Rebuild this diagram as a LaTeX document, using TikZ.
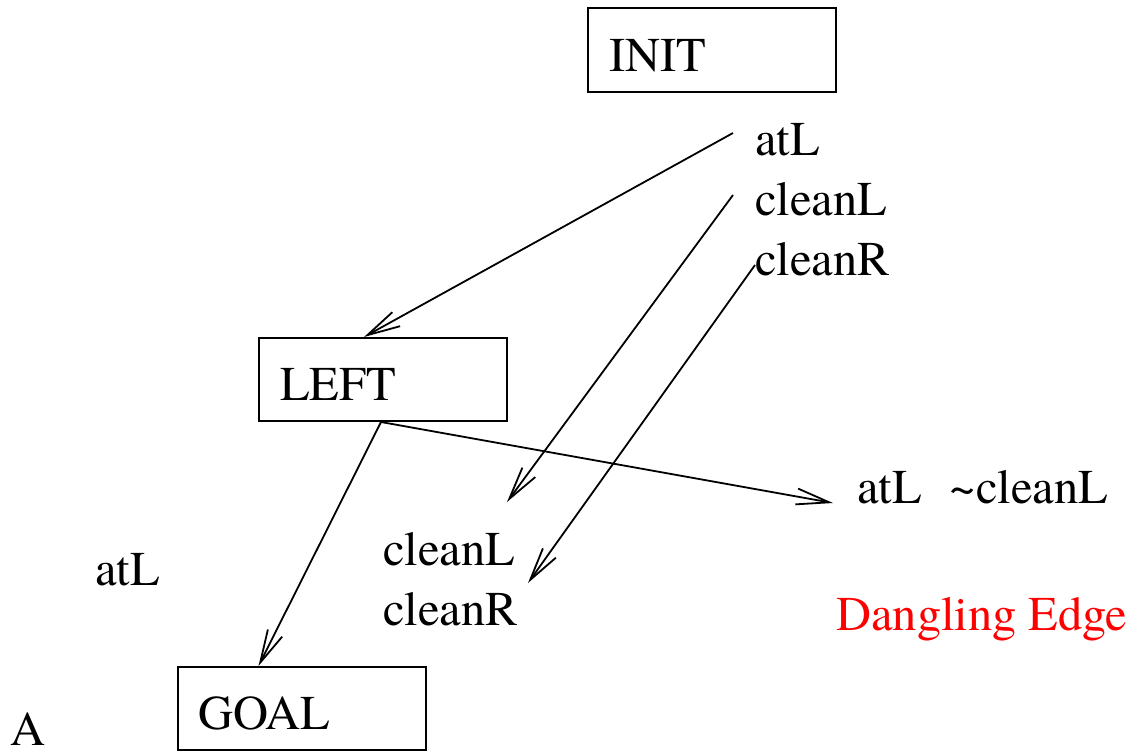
\documentclass[tikz,border=0pt]{standalone}
\usepackage{fontspec}
\setmainfont{TeX Gyre Termes}
\usetikzlibrary{arrows.meta}
\begin{document}
\begin{tikzpicture}[x=1pt,y=-1pt,
  every node/.style={font=\fontsize{48.5}{58}\selectfont, inner sep=0pt},
  lbl/.style={anchor=base west},
  box/.style={draw, line width=2pt, minimum width=248pt, minimum height=83pt,
    text width=206pt, align=left, inner xsep=21pt, text height=42pt, text depth=0pt},
  link/.style={line width=1.8pt, -{Straight Barb[length=33pt,width=16pt]}}]
\useasboundingbox (0,0) rectangle (1140,752);
% boxes
\node[box] (init) at (712,50) {INIT};
\node[box] (left) at (383,379.5) {LEFT};
\node[box, minimum width=247pt] (goal) at (301.5,708.5) {GOAL};
% labels
\node[lbl] (a1) at (755,155) {atL};
\node[lbl] (c1) at (755,215) {cleanL};
\node[lbl] (r1) at (755,275) {cleanR};
\node[lbl] (c2) at (383,565) {cleanL};
\node[lbl] (r2) at (383,625) {cleanR};
\node[lbl] (a2) at (95,585) {atL};
\node[lbl] (d) at (857,503) {atL\hspace{28pt}\textasciitilde cleanL};
\node[lbl, text=red] (dg) at (836,630) {Dangling Edge};
\node[lbl] (A) at (10,745) {A};
% connector ends
\coordinate (s1) at (733,133);
\coordinate (s2) at (733,195);
\coordinate (s3) at (755,265);
\coordinate (e2) at (507,502);
\coordinate (e3) at (528,583);
\coordinate (e5) at (833,503);
% connectors
\draw[link] (s1) -- ([xshift=106pt]left.north west);
\draw[link] (s2) -- (e2);
\draw[link] (s3) -- (e3);
\draw[link] ([xshift=123pt]left.south west) -- ([xshift=82pt]goal.north west);
\draw[link] ([xshift=123pt]left.south west) -- (e5);
\end{tikzpicture}
\end{document}
